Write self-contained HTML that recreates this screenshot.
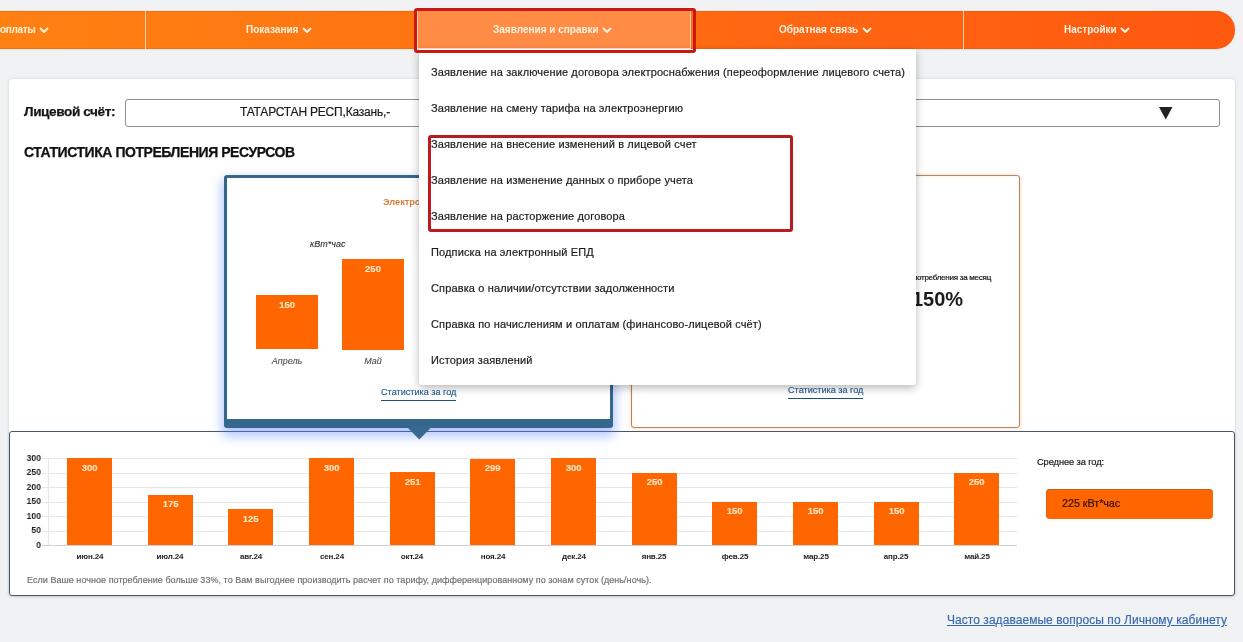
<!DOCTYPE html>
<html lang="ru">
<head>
<meta charset="utf-8">
<title>Личный кабинет</title>
<style>
*{box-sizing:border-box;margin:0;padding:0}
html,body{width:1243px;height:642px;overflow:hidden}
body{background:#f1f2f4;font-family:"Liberation Sans",Arial,sans-serif;color:#222;position:relative}
div{position:absolute}
.t,.mi,.nv,.yl,.xl,.bv{will-change:transform}
.t{white-space:nowrap}
/* nav */
#nav{left:-128px;top:11px;width:1363px;height:38px;border-radius:0 19px 19px 0;
 background:linear-gradient(90deg,#ff8412 0%,#ff7e12 17%,#ff7412 40%,#ff6512 70%,#ff580f 100%);box-shadow:0 0 2px rgba(255,120,40,.35),inset 0 1px 0 rgba(190,90,20,.35),inset 0 -1px 0 rgba(190,90,20,.25)}
.nv{top:24px;color:#fff3df;font-weight:bold;font-size:10px;line-height:12px;white-space:nowrap}
.ch{display:inline-block;width:10px;height:6px;margin-left:3.5px;vertical-align:0px}
.sep{top:11px;width:1px;height:38px;background:#ffd0a8}
#act{left:417px;top:11px;width:274px;height:38px;background:#ff8b45;border-left:1px solid #ffd2b0;border-right:1px solid #ffd2b0;border-bottom:1px solid #ffe0c8}
.redbox{border:3px solid #bb1a1e;border-radius:3px}
/* page card */
#card{left:9px;top:79px;width:1226px;height:517px;background:#fff;border-radius:4px;box-shadow:0 0 3px rgba(0,0,0,.15)}
#sel{left:125px;top:99px;width:1095px;height:28px;border:1px solid #8f8f8f;border-radius:3px;background:#fff}
/* stat cards */
#c1{left:224px;top:175px;width:389px;height:253px;border:3px solid #35678c;border-bottom-width:9px;border-radius:3px;background:#fff;
 box-shadow:0 6px 12px 2px rgba(80,125,255,.45)}
#c2{left:631px;top:175px;width:389px;height:253px;border:1px solid #a88a70;border-radius:3px;background:#fff;box-shadow:0 0 3px 1px rgba(255,170,100,.35),inset 0 0 3px rgba(255,180,110,.35)}
.bar{background:#ff6600}
.bv{left:0;width:100%;text-align:center;color:#ffe4c0;font-weight:bold;font-size:9.5px;line-height:11px;-webkit-text-stroke:.15px #ffe4c0}
/* menu */
#menu{left:419px;top:49px;width:497px;height:336px;background:#fff;border-radius:0 0 3px 3px;box-shadow:0 3px 8px rgba(0,0,0,.28)}
.mi{left:11.5px;font-size:11px;line-height:13px;letter-spacing:.13px;white-space:nowrap;color:#1c1c1c;-webkit-text-stroke:.2px #1c1c1c}
/* bottom panel */
#bp{left:9px;top:431px;width:1226px;height:165px;border:1px solid #4b5762;border-radius:3px;background:#fff;box-shadow:0 1px 3px rgba(60,90,130,.18)}
.gl{left:42px;width:975px;height:1px;background:#e6e6e6}
.yl{left:11px;width:30px;text-align:right;font-size:9.6px;line-height:11px;font-weight:bold;color:#1e1e1e;transform:scaleX(.9);transform-origin:100% 50%}
.xl{width:80px;text-align:center;font-size:8px;line-height:10px;font-weight:bold;letter-spacing:-.15px;color:#1e1e1e}
.lnk{color:#286091;border-bottom:1px solid #234e6e;padding-bottom:2px;-webkit-text-stroke:.15px #286091}
</style>
</head>
<body>
<div id="nav"></div>
<div class="sep" style="left:145px"></div>
<div class="sep" style="left:963px"></div>
<div id="act"></div>
<div class="nv" style="left:-0.5px;letter-spacing:-.35px">оплаты<span style="letter-spacing:0"><svg class="ch" viewBox="0 0 10 6"><path d="M1 1l4 4 4-4" fill="none" stroke="#fff3df" stroke-width="2"/></svg></span></div>
<div class="nv" style="left:246px">Показания<svg class="ch" viewBox="0 0 10 6"><path d="M1 1l4 4 4-4" fill="none" stroke="#fff3df" stroke-width="2"/></svg></div>
<div class="nv" style="left:493px">Заявления и справки<svg class="ch" viewBox="0 0 10 6"><path d="M1 1l4 4 4-4" fill="none" stroke="#fff3df" stroke-width="2"/></svg></div>
<div class="nv" style="left:779px">Обратная связь<svg class="ch" viewBox="0 0 10 6"><path d="M1 1l4 4 4-4" fill="none" stroke="#fff3df" stroke-width="2"/></svg></div>
<div class="nv" style="left:1064px">Настройки<svg class="ch" viewBox="0 0 10 6"><path d="M1 1l4 4 4-4" fill="none" stroke="#fff3df" stroke-width="2"/></svg></div>

<div id="card"></div>
<div class="t" style="left:24px;top:104px;font-weight:bold;font-size:13.6px;line-height:15px;letter-spacing:-.4px;color:#151515;-webkit-text-stroke:.25px #151515">Лицевой счёт:</div>
<div id="sel"></div>
<div class="t" style="left:240px;top:105px;font-size:12px;line-height:14px;letter-spacing:-.2px;color:#1a1a1a;-webkit-text-stroke:.2px #1a1a1a">ТАТАРСТАН РЕСП,Казань,-</div>
<svg style="position:absolute;left:1159px;top:107px" width="14" height="13" viewBox="0 0 14 13"><path d="M0 0H13.5L6.75 12.5Z" fill="#222"/></svg>
<div class="t" style="left:24px;top:144px;font-weight:bold;font-size:14px;line-height:16px;letter-spacing:-.45px;color:#111;-webkit-text-stroke:.25px #111">СТАТИСТИКА ПОТРЕБЛЕНИЯ РЕСУРСОВ</div>

<div id="bp"></div>
<div class="gl" style="top:545.2px"></div><div class="yl" style="top:538.5px">0</div><div class="gl" style="top:530.7px"></div><div class="yl" style="top:524.0px">50</div><div class="gl" style="top:516.2px"></div><div class="yl" style="top:509.5px">100</div><div class="gl" style="top:501.7px"></div><div class="yl" style="top:495.0px">150</div><div class="gl" style="top:487.2px"></div><div class="yl" style="top:480.5px">200</div><div class="gl" style="top:472.7px"></div><div class="yl" style="top:466.0px">250</div><div class="gl" style="top:458.2px"></div><div class="yl" style="top:451.5px">300</div>
<div style="left:48px;top:458px;width:1px;height:88px;background:#e8e8e8"></div>
<div style="left:42px;top:545px;width:975px;height:1px;background:#cfcfcf"></div>
<div class="bar" style="left:67.0px;top:458.2px;width:45.2px;height:87.0px"><div class="bv" style="top:3.5px">300</div></div><div class="xl" style="left:49.6px;top:551.5px">июн.24</div><div class="bar" style="left:147.7px;top:494.5px;width:45.2px;height:50.8px"><div class="bv" style="top:3.5px">175</div></div><div class="xl" style="left:130.3px;top:551.5px">июл.24</div><div class="bar" style="left:228.3px;top:509.0px;width:45.2px;height:36.2px"><div class="bv" style="top:3.5px">125</div></div><div class="xl" style="left:210.9px;top:551.5px">авг.24</div><div class="bar" style="left:309.0px;top:458.2px;width:45.2px;height:87.0px"><div class="bv" style="top:3.5px">300</div></div><div class="xl" style="left:291.6px;top:551.5px">сен.24</div><div class="bar" style="left:389.6px;top:472.4px;width:45.2px;height:72.8px"><div class="bv" style="top:3.5px">251</div></div><div class="xl" style="left:372.2px;top:551.5px">окт.24</div><div class="bar" style="left:470.3px;top:458.5px;width:45.2px;height:86.7px"><div class="bv" style="top:3.5px">299</div></div><div class="xl" style="left:452.9px;top:551.5px">ноя.24</div><div class="bar" style="left:551.0px;top:458.2px;width:45.2px;height:87.0px"><div class="bv" style="top:3.5px">300</div></div><div class="xl" style="left:533.6px;top:551.5px">дек.24</div><div class="bar" style="left:631.6px;top:472.7px;width:45.2px;height:72.5px"><div class="bv" style="top:3.5px">250</div></div><div class="xl" style="left:614.2px;top:551.5px">янв.25</div><div class="bar" style="left:712.3px;top:501.7px;width:45.2px;height:43.5px"><div class="bv" style="top:3.5px">150</div></div><div class="xl" style="left:694.9px;top:551.5px">фев.25</div><div class="bar" style="left:792.9px;top:501.7px;width:45.2px;height:43.5px"><div class="bv" style="top:3.5px">150</div></div><div class="xl" style="left:775.5px;top:551.5px">мар.25</div><div class="bar" style="left:873.6px;top:501.7px;width:45.2px;height:43.5px"><div class="bv" style="top:3.5px">150</div></div><div class="xl" style="left:856.2px;top:551.5px">апр.25</div><div class="bar" style="left:954.3px;top:472.7px;width:45.2px;height:72.5px"><div class="bv" style="top:3.5px">250</div></div><div class="xl" style="left:936.9px;top:551.5px">май.25</div>
<div class="t" style="left:1037px;top:457px;font-size:9.3px;line-height:11px;letter-spacing:-.1px;color:#1a1a1a;-webkit-text-stroke:.2px #1a1a1a">Среднее за год:</div>
<div style="left:1046px;top:489px;width:167px;height:30px;background:#ff6600;border-radius:4px;box-shadow:inset 0 1px 0 rgba(170,80,20,.5),inset 1px 0 0 rgba(170,80,20,.3)"></div>
<div class="t" style="left:1061.5px;top:497px;font-size:10.7px;line-height:12px;color:#301000;-webkit-text-stroke:.2px #301000">225 кВт*час</div>
<div class="t" style="left:27px;top:575px;font-size:9px;line-height:11px;letter-spacing:.045px;color:#727272;-webkit-text-stroke:.2px #727272">Если Ваше ночное потребление больше 33%, то Вам выгоднее производить расчет по тарифу, дифференцированному по зонам суток (день/ночь).</div>
<div class="t" style="left:946.5px;top:613px;font-size:12px;line-height:14px;letter-spacing:.05px;color:#3568ad;text-decoration:underline;-webkit-text-stroke:.15px #3568ad">Часто задаваемые вопросы по Личному кабинету</div>

<div id="c1"></div>
<div class="t" style="left:382.5px;top:196.5px;font-weight:bold;font-size:9.2px;line-height:11px;color:#dc7a36">Электроэнергия</div>
<div class="t" style="left:310px;top:239px;font-style:italic;font-size:9px;line-height:11px;color:#2a2a2a;-webkit-text-stroke:.1px #2a2a2a">кВт*час</div>
<div class="bar" style="left:255.5px;top:295.3px;width:62.2px;height:54.2px"><div class="bv" style="top:3.5px">150</div></div>
<div class="bar" style="left:342px;top:259px;width:62px;height:90.5px"><div class="bv" style="top:3.5px">250</div></div>
<div class="t" style="left:257px;top:356px;width:60px;text-align:center;font-style:italic;font-size:9px;line-height:11px;color:#4a4a4a;-webkit-text-stroke:.1px #4a4a4a">Апрель</div>
<div class="t" style="left:343px;top:356px;width:60px;text-align:center;font-style:italic;font-size:9px;line-height:11px;color:#4a4a4a;-webkit-text-stroke:.1px #4a4a4a">Май</div>
<div class="t lnk" style="left:381px;top:387px;font-size:9.1px;line-height:11px">Статистика за год</div>
<svg style="position:absolute;left:407px;top:427px;z-index:2" width="25" height="13" viewBox="0 0 25 13"><path d="M0 0H24.6L12.3 12.5Z" fill="#386990"/></svg>

<div id="c2"></div>
<div class="t" style="right:252px;top:272.5px;font-size:8px;line-height:10px;letter-spacing:-.25px;color:#111;-webkit-text-stroke:.2px #111">Доля ночного потребления за месяц</div>
<div class="t" style="left:912px;top:288px;font-weight:bold;font-size:20px;line-height:22px;color:#1a1a1a">150%</div>
<div class="t lnk" style="left:787.5px;top:385px;font-size:9.1px;line-height:11px">Статистика за год</div>

<div id="menu"><div class="mi" style="top:17px">Заявление на заключение договора электроснабжения (переоформление лицевого счета)</div><div class="mi" style="top:53px">Заявление на смену тарифа на электроэнергию</div><div class="mi" style="top:89px">Заявление на внесение изменений в лицевой счет</div><div class="mi" style="top:125px">Заявление на изменение данных о приборе учета</div><div class="mi" style="top:161px">Заявление на расторжение договора</div><div class="mi" style="top:197px">Подписка на электронный ЕПД</div><div class="mi" style="top:233px">Справка о наличии/отсутствии задолженности</div><div class="mi" style="top:269px">Справка по начислениям и оплатам (финансово-лицевой счёт)</div><div class="mi" style="top:305px">История заявлений</div></div>
<div class="redbox" style="left:414px;top:8px;width:282px;height:44.5px;border-color:#c91815"></div>
<div class="redbox" style="left:428px;top:134.5px;width:365px;height:97px"></div>
</body>
</html>
